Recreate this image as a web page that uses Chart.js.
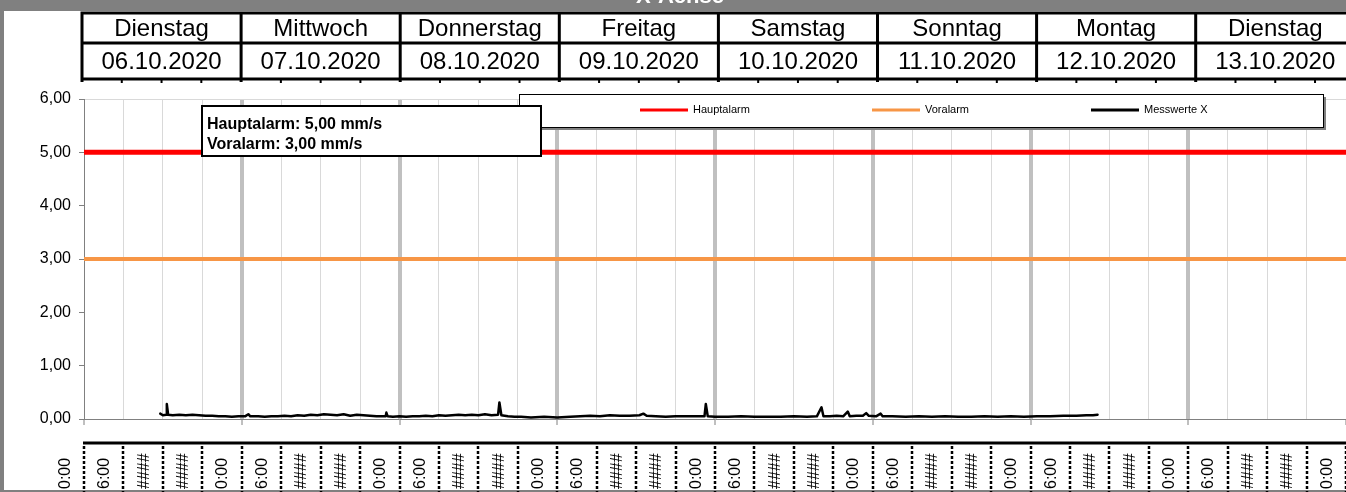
<!DOCTYPE html>
<html><head><meta charset="utf-8">
<script src="https://cdn.jsdelivr.net/npm/chart.js@4/dist/chart.umd.min.js"></script>
<style>html,body{margin:0;padding:0;background:#fff;overflow:hidden}canvas{display:block}</style>
</head><body>
<canvas id="c" width="1346" height="492"></canvas>
<script>
// ---- data ----
const chartTitle = 'X-Achse';
const dayNames = ['Dienstag','Mittwoch','Donnerstag','Freitag','Samstag','Sonntag','Montag','Dienstag'];
const dayDates = ['06.10.2020','07.10.2020','08.10.2020','09.10.2020','10.10.2020','11.10.2020','12.10.2020','13.10.2020'];
const hourLabels = ['0:00','6:00','####','####'];
const yTickLabels = ['0,00','1,00','2,00','3,00','4,00','5,00','6,00'];
const alarmLabels = ['Hauptalarm','Voralarm'];
const alarmLevels = [5, 3];
const measLabel = 'Messwerte X';
const xRangeHours = [0, 192];
const measHours = [11.6,12.0,12.5,12.6,12.8,13.5,14.5,15.5,16.5,17.5,18.5,19.5,20.5,21.5,22.5,23.5,24.5,25.0,25.3,26.5,
  27.5,28.5,29.5,30.5,31.5,32.5,33.5,34.5,35.5,36.5,37.5,38.5,39.5,40.5,41.5,42.5,43.5,44.5,45.5,45.9,
  46.0,46.2,47.0,48.0,49.0,50.0,51.0,52.0,53.0,54.0,55.0,56.0,57.0,58.0,59.0,60.0,61.0,62.0,63.0,63.2,
  63.5,64.5,65.5,66.5,68.0,70.0,72.0,74.0,75.5,77.0,78.5,80.0,81.5,83.0,84.5,85.1,85.6,87.0,88.5,90.0,
  91.5,93.0,94.4,94.6,94.9,96.0,98.0,100.0,102.0,104.0,106.0,108.0,110.0,111.5,112.2,112.5,113.5,114.5,115.5,116.2,
  116.5,117.5,118.5,119.0,119.4,120.5,121.2,121.5,123.0,125.0,127.0,129.0,131.0,133.0,135.0,137.0,139.0,141.0,143.0,145.0,
  147.0,149.0,151.0,152.5,153.5,154.2];
const measValues = [0.10,0.07,0.08,0.28,0.08,0.07,0.08,0.07,0.08,0.07,0.06,0.06,0.05,0.05,0.04,0.05,0.05,0.09,0.05,0.05,
  0.04,0.05,0.05,0.06,0.05,0.07,0.06,0.08,0.07,0.09,0.08,0.07,0.09,0.06,0.08,0.07,0.06,0.05,0.05,0.05,
  0.12,0.05,0.04,0.05,0.04,0.05,0.05,0.06,0.05,0.07,0.06,0.07,0.08,0.07,0.08,0.07,0.09,0.07,0.08,0.31,
  0.07,0.05,0.04,0.04,0.03,0.04,0.03,0.04,0.05,0.06,0.05,0.07,0.06,0.06,0.07,0.10,0.06,0.05,0.04,0.05,
  0.05,0.05,0.05,0.28,0.05,0.04,0.04,0.05,0.04,0.04,0.04,0.05,0.04,0.05,0.22,0.05,0.05,0.06,0.05,0.14,
  0.05,0.06,0.06,0.11,0.06,0.05,0.10,0.05,0.05,0.04,0.05,0.04,0.05,0.04,0.04,0.05,0.04,0.05,0.04,0.05,
  0.05,0.06,0.06,0.07,0.07,0.08];

// ---- styles ----
const FONT = '"Liberation Sans", Arial, sans-serif';
const FRAME = '#808080';
const alarmColors = ['#FF0000', '#F79646'];
const fmt = v => v.toFixed(2).replace('.', ',');

const measData = measHours.map((h, i) => ({ x: h, y: measValues[i] }));
const alarmDatasets = alarmLevels.map((lv, i) => ({
  label: alarmLabels[i],
  data: xRangeHours.map(h => ({ x: h, y: lv })),
  borderColor: alarmColors[i],
  borderWidth: i === 0 ? 5 : 4,
  pointRadius: 0,
  order: 2
}));

const decor = {
  id: 'decor',
  beforeDraw(chart) {
    const ctx = chart.ctx;
    ctx.save();
    ctx.fillStyle = '#fff';
    ctx.fillRect(0, 0, chart.width, chart.height);
    ctx.restore();
  },
  afterDraw(chart) {
    const ctx = chart.ctx;
    const xs = chart.scales.x;
    const W = chart.width, H = chart.height;
    ctx.save();
    // frame
    ctx.fillStyle = FRAME;
    ctx.fillRect(0, 0, W, 11);
    ctx.fillRect(0, 0, 4, H);
    ctx.fillRect(0, H - 2, W, 2);
    // title (cut off at top)
    ctx.fillStyle = '#fff';
    ctx.font = 'bold 22px ' + FONT;
    ctx.textAlign = 'center';
    ctx.textBaseline = 'alphabetic';
    ctx.fillText(chartTitle, 680, 3);

    // table of days
    const tL = 82, colW = 159.1, yTop = 13, yMid = 43, yBot = 79;
    ctx.fillStyle = '#fff';
    ctx.fillRect(tL, yTop, W - tL, yBot - yTop);
    ctx.strokeStyle = '#000';
    ctx.lineWidth = 3;
    ctx.beginPath();
    [yTop, yMid, yBot].forEach(y => { ctx.moveTo(tL - 1.5, y); ctx.lineTo(W, y); });
    for (let i = 0; i <= dayNames.length; i++) {
      const x = tL + i * colW;
      ctx.moveTo(x, yTop); ctx.lineTo(x, yBot + 3);
    }
    ctx.stroke();
    ctx.lineWidth = 2;
    ctx.beginPath();
    for (let i = 0; i < dayNames.length * 4; i++) {
      if (i % 4 === 0) continue;
      const x = tL + i * colW / 4;
      ctx.moveTo(x, yBot); ctx.lineTo(x, yBot + 4);
    }
    ctx.stroke();
    ctx.fillStyle = '#000';
    ctx.font = '24px ' + FONT;
    ctx.textAlign = 'center';
    ctx.textBaseline = 'middle';
    dayNames.forEach((d, i) => {
      const cx = tL + (i + 0.5) * colW;
      ctx.fillText(d, cx, (yTop + yMid) / 2 + 1);
      ctx.fillText(dayDates[i], cx, (yMid + yBot) / 2 + 1);
    });

    // bottom time label band
    const bandY = 443;
    ctx.strokeStyle = '#000';
    ctx.lineWidth = 3;
    ctx.beginPath();
    ctx.moveTo(83, bandY); ctx.lineTo(W, bandY);
    ctx.stroke();
    ctx.lineWidth = 2.5;
    ctx.setLineDash([3, 2]);
    ctx.beginPath();
    for (let h = xRangeHours[0]; h <= xRangeHours[1]; h += 6) {
      const x = Math.round(xs.getPixelForValue(h));
      ctx.moveTo(x, bandY + 3); ctx.lineTo(x, H);
    }
    ctx.stroke();
    ctx.setLineDash([]);
    ctx.font = '16px ' + FONT;
    ctx.textAlign = 'left';
    ctx.textBaseline = 'middle';
    let k = 0;
    for (let h = xRangeHours[0]; h <= xRangeHours[1]; h += 6, k++) {
      const cx = xs.getPixelForValue(h - 3) + 1;
      ctx.save();
      ctx.translate(cx, 489);
      ctx.rotate(-Math.PI / 2);
      ctx.fillText(hourLabels[k % hourLabels.length], 0, 0);
      ctx.restore();
    }

    // legend box
    const lg = { x: 519, y: 94, w: 804, h: 33 };
    ctx.fillStyle = FRAME;
    ctx.fillRect(lg.x + 3, lg.y + 3, lg.w, lg.h);
    ctx.fillStyle = '#fff';
    ctx.fillRect(lg.x, lg.y, lg.w, lg.h);
    ctx.strokeStyle = '#000';
    ctx.lineWidth = 1;
    ctx.strokeRect(lg.x + 0.5, lg.y + 0.5, lg.w, lg.h);
    const items = chart.data.datasets.map(ds => ({ label: ds.label, color: ds.borderColor }));
    const itemX = [640, 872, 1091];
    ctx.font = '11px ' + FONT;
    ctx.textBaseline = 'middle';
    ctx.textAlign = 'left';
    items.forEach((it, i) => {
      const ly = lg.y + 16;
      ctx.strokeStyle = it.color;
      ctx.lineWidth = 3;
      ctx.beginPath();
      ctx.moveTo(itemX[i], ly); ctx.lineTo(itemX[i] + 48, ly);
      ctx.stroke();
      ctx.fillStyle = '#000';
      ctx.fillText(it.label, itemX[i] + 53, ly);
    });

    // annotation box
    const ab = { x: 202, y: 106, w: 339, h: 50 };
    ctx.fillStyle = '#fff';
    ctx.fillRect(ab.x, ab.y, ab.w, ab.h);
    ctx.strokeStyle = '#000';
    ctx.lineWidth = 2;
    ctx.strokeRect(ab.x, ab.y, ab.w, ab.h);
    ctx.fillStyle = '#000';
    ctx.font = 'bold 16px ' + FONT;
    ctx.textBaseline = 'alphabetic';
    alarmLabels.forEach((l, i) => {
      ctx.fillText(l + ': ' + fmt(alarmLevels[i]) + ' mm/s', ab.x + 5, ab.y + 23 + i * 20);
    });
    ctx.restore();
  }
};

Chart.defaults.font.family = FONT;
new Chart(document.getElementById('c'), {
  type: 'line',
  data: {
    datasets: [
      ...alarmDatasets,
      { label: measLabel, data: measData, borderColor: '#000', borderWidth: 2.5, borderJoinStyle: 'round', borderCapStyle: 'round', pointRadius: 0, tension: 0, order: 1 }
    ]
  },
  options: {
    responsive: false,
    animation: false,
    devicePixelRatio: 1,
    layout: { padding: { top: 99, left: 0, right: 0, bottom: 0 } },
    plugins: { legend: { display: false }, tooltip: { enabled: false }, title: { display: false } },
    scales: {
      x: {
        type: 'linear',
        min: xRangeHours[0], max: xRangeHours[1],
        ticks: { display: false, stepSize: 6 },
        border: { color: FRAME, width: 1 },
        grid: {
          color: c => { const v = c.tick.value; if (v <= xRangeHours[0] || v >= xRangeHours[1]) return 'rgba(0,0,0,0)'; return v % 24 === 0 ? '#C0C0C0' : '#D9D9D9'; },
          lineWidth: c => c.tick.value % 24 === 0 ? 4 : 1,
          tickColor: c => c.tick.value % 24 === 0 ? FRAME : 'rgba(0,0,0,0)',
          tickWidth: 1,
          tickLength: 6
        },
        afterFit: s => { s.height = 73; }
      },
      y: {
        min: 0, max: 6,
        ticks: { stepSize: 1, color: '#000', font: { size: 16 }, padding: 8, callback: v => yTickLabels[v] },
        border: { color: FRAME, width: 1 },
        grid: {
          color: c => c.tick.value === 6 ? '#D9D9D9' : 'rgba(0,0,0,0)',
          tickColor: FRAME,
          tickLength: 5,
          tickWidth: 1
        },
        afterFit: s => { s.width = 84; }
      }
    }
  },
  plugins: [decor]
});
</script>
</body></html>
